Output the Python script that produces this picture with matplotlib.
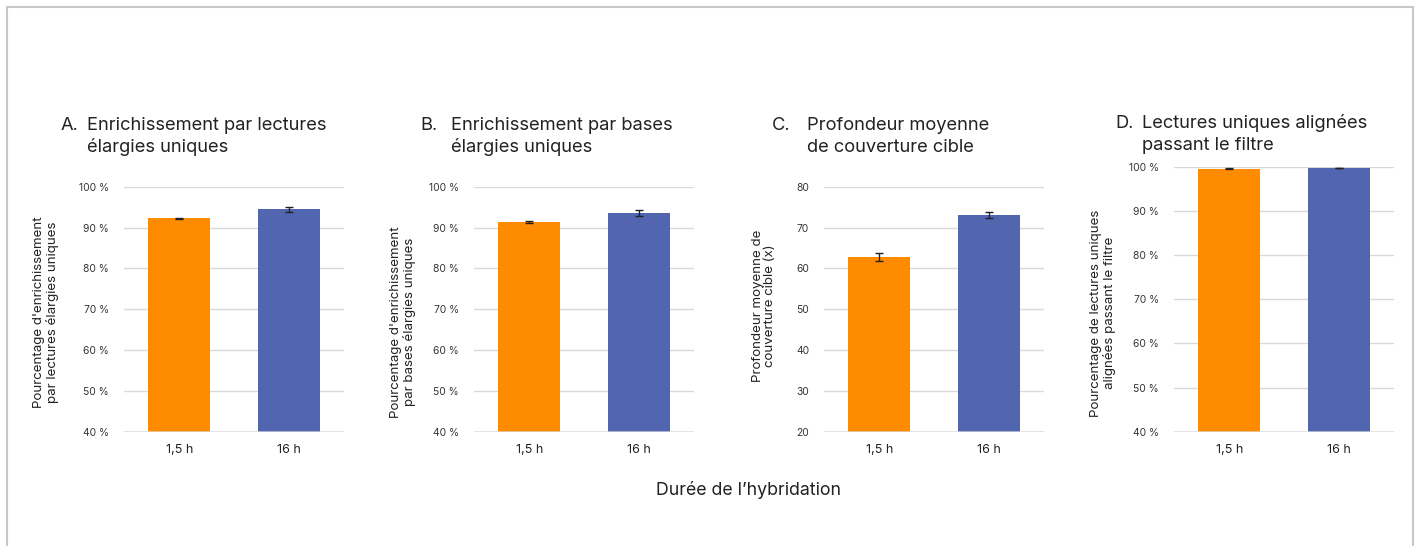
import matplotlib
matplotlib.use("Agg")
import matplotlib.pyplot as plt
from matplotlib.patches import Rectangle
from matplotlib.ticker import FuncFormatter

plt.rcParams['font.family'] = ['Inter', 'DejaVu Sans']

# Hybridization durations and bar colours
categories = ["1,5 h", "16 h"]
bar_colors = ["#ff8c00", "#5266b0"]

# Panel A: enrichment by unique widened reads (%)
a_values = [92.3, 94.5]
a_errors = [0.1, 0.6]
# Panel B: enrichment by unique widened bases (%)
b_values = [91.4, 93.6]
b_errors = [0.3, 0.7]
# Panel C: mean target coverage depth (x)
c_values = [62.8, 73.0]
c_errors = [1.0, 0.7]
# Panel D: unique aligned reads passing filter (%)
d_values = [99.5, 99.7]
d_errors = [0.1, 0.1]

panels = [
    dict(letter="A.", title="Enrichissement par lectures\nélargies uniques",
         ylabel="Pourcentage d'enrichissement\npar lectures élargies uniques",
         values=a_values, errors=a_errors, ylim=(40, 100), pct=True,
         rect=(124.3, 186.7, 344, 431.7), letter_x=61, title_x=87, title_y=130,
         ylab=(46.5, 312)),
    dict(letter="B.", title="Enrichissement par bases\nélargies uniques",
         ylabel="Pourcentage d'enrichissement\npar bases élargies uniques",
         values=b_values, errors=b_errors, ylim=(40, 100), pct=True,
         rect=(474.3, 186.7, 694, 431.7), letter_x=420, title_x=451, title_y=130,
         ylab=(402.5, 322)),
    dict(letter="C.", title="Profondeur moyenne\nde couverture cible",
         ylabel="Profondeur moyenne de\ncouverture cible (x)",
         values=c_values, errors=c_errors, ylim=(20, 80), pct=False,
         rect=(824.3, 186.7, 1044, 431.7), letter_x=772, title_x=807, title_y=130,
         ylab=(764, 306)),
    dict(letter="D.", title="Lectures uniques alignées\npassant le filtre",
         ylabel="Pourcentage de lectures uniques\nalignées passant le filtre",
         values=d_values, errors=d_errors, ylim=(40, 100), pct=True,
         rect=(1174.3, 166.7, 1394, 431.7), letter_x=1115, title_x=1142, title_y=128,
         ylab=(1102.5, 313)),
]

W, H = 1418, 546
fig = plt.figure(figsize=(W / 100, H / 100), dpi=100)
fig.patch.set_facecolor("white")

# Light frame around the figure (open at the bottom)
fig.add_artist(Rectangle((7 / W, -0.05), (1413 - 7) / W, 1.05 - 7 / H,
                         transform=fig.transFigure, fill=False,
                         edgecolor="#c8c8c8", linewidth=1.5))

text_color = "#222222"
tick_color = "#333333"
grid_color = "#d9d9d9"

for p in panels:
    x0, y0, x1, y1 = p["rect"]
    ax = fig.add_axes([x0 / W, 1 - y1 / H, (x1 - x0) / W, (y1 - y0) / H])
    xs = range(len(categories))
    ax.bar(xs, [v - p["ylim"][0] for v in p["values"]], bottom=p["ylim"][0],
           width=0.56, color=bar_colors, zorder=3)
    ax.errorbar(xs, p["values"], yerr=p["errors"], fmt="none",
                ecolor="#222222", elinewidth=1, capsize=3, capthick=1, zorder=4)
    ax.set_xlim(-0.5, 1.5)
    ax.set_ylim(*p["ylim"])
    ax.set_yticks(range(p["ylim"][0], p["ylim"][1] + 1, 10))
    if p["pct"]:
        ax.yaxis.set_major_formatter(FuncFormatter(lambda v, _: f"{int(v)} %"))
    ax.set_xticks(list(xs))
    ax.set_xticklabels(categories)
    ax.grid(axis="y", color=grid_color, linewidth=1, zorder=0)
    ax.axhline(p["ylim"][0], color=grid_color, linewidth=1.2, alpha=0.8, zorder=5)
    ax.set_axisbelow(True)
    for s in ax.spines.values():
        s.set_visible(False)
    ax.tick_params(axis="y", length=0, pad=11, labelsize=7.4, labelcolor=tick_color)
    ax.tick_params(axis="x", length=0, pad=9, labelsize=9, labelcolor=text_color)

    line1, line2 = p["title"].split("\n")
    fig.text(p["letter_x"] / W, 1 - p["title_y"] / H, p["letter"], fontsize=13.2,
             color=text_color, ha="left", va="baseline")
    fig.text(p["title_x"] / W, 1 - p["title_y"] / H, line1,
             fontsize=13.2, color=text_color, ha="left", va="baseline")
    fig.text(p["title_x"] / W, 1 - (p["title_y"] + 22) / H, line2,
             fontsize=13.2, color=text_color, ha="left", va="baseline")

    lx, ly = p["ylab"]
    fig.text(lx / W, 1 - ly / H, p["ylabel"], rotation=90, fontsize=9.6,
             color=text_color, ha="center", va="center", multialignment="center",
             linespacing=1.1)

fig.text(749 / W, 1 - 490 / H, "Durée de l’hybridation", fontsize=12.8,
         color=text_color, ha="center", va="center")

fig.savefig("out.png", dpi=100, facecolor="white")
